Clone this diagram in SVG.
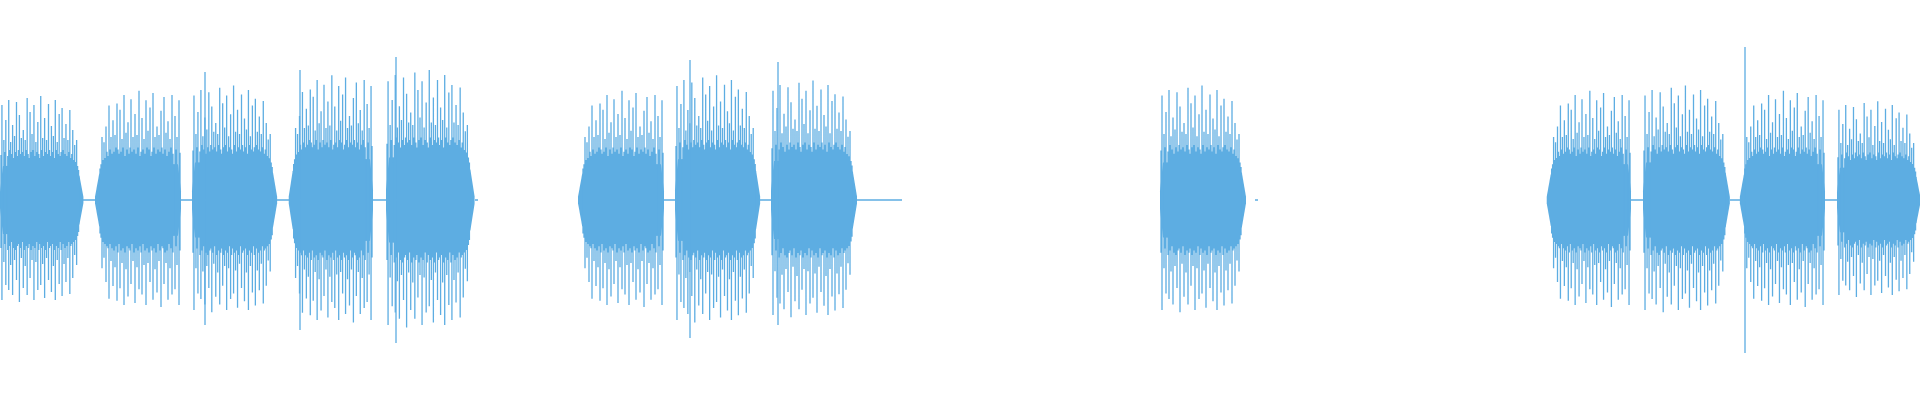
<svg xmlns="http://www.w3.org/2000/svg" width="1920" height="400" viewBox="0 0 1920 400">
<style>
.core{fill:#5dade2}
.sp{stroke:#5dade2;stroke-width:1.3;fill:none;vector-effect:non-scaling-stroke}
</style>
<defs>
<g id="burst">
<path class="core" d="M0,-8 L3,-34 L75,-36 L82,-24 L86,-3 L86,3 L82,24 L75,36 L3,34 L0,8 Z"/>
<path class="sp" d="M2,-95V100M6,-80V85M9,-100V90M13,-75V95M17,-98V80M20,-85V102M24,-70V88M28,-102V95M31,-88V78M35,-95V100M39,-78V90M42,-104V85M46,-82V98M50,-96V80M53,-74V92M57,-100V100M61,-86V84M64,-92V96M68,-76V82M72,-90V94M75,-70V78M79,-60V65M4,-60V62M11,-58V65M15,-64V60M22,-62V58M26,-60V66M33,-66V60M37,-58V62M44,-62V64M48,-60V58M55,-64V66M59,-58V60M66,-62V64M70,-60V58M77,-55V55M1,-45V48M5,-48V44M8,-44V50M10,-50V46M12,-46V42M14,-42V48M16,-48V50M18,-44V46M19,-50V44M21,-46V48M23,-48V42M25,-44V50M27,-50V46M29,-46V48M30,-42V44M32,-48V50M34,-50V46M36,-44V48M38,-48V42M40,-46V50M41,-42V44M43,-50V48M45,-44V46M47,-48V50M49,-46V42M51,-50V48M52,-44V46M54,-48V44M56,-42V50M58,-50V46M60,-46V48M62,-44V42M63,-48V50M65,-50V44M67,-46V48M69,-44V46M71,-48V42M73,-42V46M74,-46V44M76,-40V42M78,-38V40M80,-34V36M81,-30V32"/>
</g>
</defs>
<use href="#burst" transform="translate(0,200) scale(0.97,1)"/>
<use href="#burst" transform="translate(181,200) scale(-1,1.05)"/>
<use href="#burst" transform="translate(192,200) scale(0.99,1.1)"/>
<use href="#burst" transform="translate(373,200) scale(-0.98,1.2)"/>
<use href="#burst" transform="translate(386,200) scale(1.03,1.25)"/>
<use href="#burst" transform="translate(664,200) scale(-1,1.05)"/>
<use href="#burst" transform="translate(675,200) scale(0.99,1.2)"/>
<use href="#burst" transform="translate(771,200) scale(1,1.15)"/>
<use href="#burst" transform="translate(1160,200) scale(1.0,1.1)"/>
<use href="#burst" transform="translate(1631,200) scale(-0.98,1.05)"/>
<use href="#burst" transform="translate(1643,200) scale(1.01,1.1)"/>
<use href="#burst" transform="translate(1825,200) scale(-0.99,1.05)"/>
<use href="#burst" transform="translate(1837,200) scale(0.97,0.95)"/>
<path class="sp" d="M83,200H95M181,200H192M277,200H289M373,200H386M475,200H478M664,200H675M760,200H771M857,200H902M1255,200H1258M1631,200H1643M1730,200H1740M1825,200H1837M396,57V343M1745,47V353M690,60V338M778,62V325M205,72V325M300,70V330"/>
</svg>
